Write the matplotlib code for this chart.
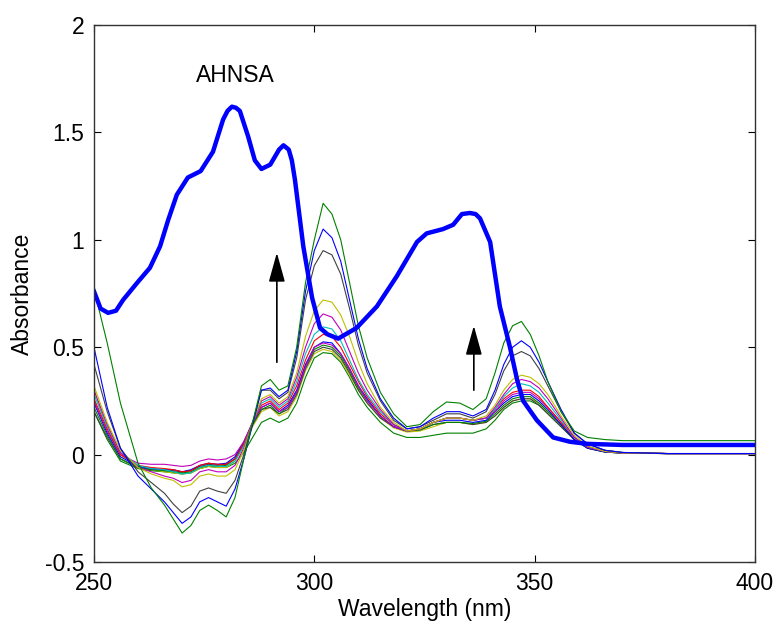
import matplotlib
matplotlib.use('Agg')
import matplotlib.pyplot as plt

plt.rcParams['font.family'] = ['Liberation Sans', 'DejaVu Sans']

# thick AHNSA spectrum
ahnsa_wl = [250, 251.5, 253.2, 255, 256.6, 259.8, 262.7, 265, 266.8, 268.8, 271.3, 274.2, 277,
            279.3, 280.3, 281.3, 282.2, 283.1, 285, 286.5, 288, 290, 292, 293, 294.2, 294.9,
            295.6, 297.5, 299.5, 301.3, 303, 305.4, 309.6, 314.2, 318.7, 323.3, 325.5, 329.2,
            331.5, 333.5, 335.3, 336.6, 337.6, 339.9, 342.1, 344.4, 346, 347.4, 350.5, 354.2,
            358, 362, 370, 400]
ahnsa = [0.76, 0.68, 0.66, 0.67, 0.72, 0.80, 0.87, 0.97, 1.09, 1.21, 1.29, 1.32, 1.41,
         1.56, 1.60, 1.62, 1.615, 1.60, 1.48, 1.37, 1.33, 1.35, 1.42, 1.44, 1.42, 1.37,
         1.28, 0.97, 0.73, 0.59, 0.56, 0.54, 0.59, 0.69, 0.83, 0.99, 1.03, 1.05,
         1.07, 1.12, 1.125, 1.12, 1.10, 0.99, 0.69, 0.50, 0.35, 0.25, 0.16, 0.08,
         0.06, 0.05, 0.045, 0.045]

# titration spectra
wl = [250, 253, 256, 260, 263, 266, 268, 270, 272, 274, 276, 278, 280, 282, 284, 286, 288, 290,
      292, 294, 296, 298, 300, 302, 304, 306, 308, 310, 312, 315, 318, 321, 324, 327, 330, 333,
      336, 339, 341, 343, 345, 347, 349, 351, 353, 356, 359, 362, 366, 370, 380, 400]

s1 = [0.77, 0.52, 0.24, -0.04, -0.155, -0.235, -0.3, -0.365, -0.33, -0.26, -0.235, -0.26, -0.29,
      -0.2, -0.02, 0.15, 0.32, 0.35, 0.3, 0.32, 0.5, 0.8, 1.0, 1.17, 1.12, 1.0, 0.8, 0.6, 0.45,
      0.29, 0.19, 0.13, 0.14, 0.2, 0.245, 0.24, 0.21, 0.26, 0.38, 0.52, 0.6, 0.62, 0.56, 0.46,
      0.34, 0.2, 0.11, 0.08, 0.07, 0.065, 0.065, 0.065]
s2 = [0.5, 0.22, 0.03, -0.1, -0.16, -0.22, -0.27, -0.32, -0.29, -0.22, -0.2, -0.22, -0.24,
      -0.16, -0.02, 0.14, 0.3, 0.31, 0.27, 0.3, 0.48, 0.76, 0.95, 1.05, 1.01, 0.9, 0.72, 0.54,
      0.4, 0.26, 0.17, 0.12, 0.13, 0.17, 0.2, 0.2, 0.18, 0.21, 0.3, 0.42, 0.5, 0.53, 0.5, 0.43,
      0.34, 0.21, 0.1, 0.05, 0.02, 0.01, 0.005, 0.005]
s3 = [0.42, 0.2, 0.03, -0.08, -0.13, -0.18, -0.23, -0.27, -0.24, -0.17, -0.155, -0.17, -0.18,
      -0.12, 0.0, 0.15, 0.3, 0.3, 0.26, 0.29, 0.45, 0.72, 0.88, 0.95, 0.93, 0.84, 0.68, 0.51,
      0.38, 0.25, 0.16, 0.12, 0.13, 0.16, 0.19, 0.19, 0.17, 0.2, 0.28, 0.39, 0.46, 0.48, 0.46,
      0.4, 0.32, 0.2, 0.1, 0.05, 0.02, 0.01, 0.005, 0.005]
s4 = [0.32, 0.15, 0.02, -0.06, -0.09, -0.11, -0.12, -0.15, -0.14, -0.1, -0.09, -0.1, -0.1,
      -0.07, 0.02, 0.15, 0.26, 0.28, 0.24, 0.27, 0.38, 0.55, 0.67, 0.72, 0.71, 0.65, 0.55, 0.43,
      0.33, 0.22, 0.15, 0.11, 0.12, 0.15, 0.17, 0.17, 0.16, 0.18, 0.23, 0.3, 0.35, 0.37, 0.36,
      0.33, 0.28, 0.18, 0.09, 0.04, 0.015, 0.008, 0.005, 0.005]
s5 = [0.3, 0.14, 0.01, -0.06, -0.08, -0.1, -0.11, -0.13, -0.12, -0.08, -0.07, -0.08, -0.08,
      -0.05, 0.03, 0.15, 0.25, 0.27, 0.23, 0.26, 0.36, 0.5, 0.61, 0.655, 0.64, 0.58, 0.48, 0.38,
      0.3, 0.21, 0.14, 0.11, 0.12, 0.15, 0.17, 0.17, 0.16, 0.17, 0.22, 0.28, 0.33, 0.35, 0.34,
      0.31, 0.26, 0.17, 0.08, 0.035, 0.015, 0.008, 0.005, 0.005]
s6 = [0.28, 0.13, 0.01, -0.05, -0.065, -0.07, -0.08, -0.09, -0.085, -0.06, -0.05, -0.055, -0.055,
      -0.03, 0.04, 0.15, 0.24, 0.26, 0.22, 0.25, 0.34, 0.47, 0.56, 0.595, 0.585, 0.53, 0.44, 0.35,
      0.28, 0.2, 0.14, 0.11, 0.12, 0.15, 0.17, 0.17, 0.16, 0.17, 0.21, 0.27, 0.31, 0.33, 0.32,
      0.29, 0.24, 0.16, 0.08, 0.035, 0.015, 0.008, 0.005, 0.005]
s7 = [0.26, 0.12, 0.0, -0.05, -0.06, -0.065, -0.07, -0.08, -0.075, -0.05, -0.04, -0.045, -0.045,
      -0.02, 0.05, 0.15, 0.23, 0.25, 0.21, 0.24, 0.32, 0.44, 0.53, 0.56, 0.55, 0.5, 0.42, 0.34,
      0.27, 0.19, 0.14, 0.11, 0.12, 0.15, 0.17, 0.17, 0.16, 0.17, 0.21, 0.26, 0.29, 0.3, 0.3,
      0.27, 0.22, 0.15, 0.08, 0.035, 0.015, 0.008, 0.005, 0.005]
s8 = [0.24, 0.1, -0.01, -0.055, -0.065, -0.07, -0.07, -0.08, -0.07, -0.05, -0.04, -0.045, -0.04,
      -0.01, 0.06, 0.15, 0.22, 0.24, 0.2, 0.23, 0.3, 0.42, 0.5, 0.525, 0.52, 0.47, 0.4, 0.32,
      0.26, 0.18, 0.13, 0.11, 0.12, 0.15, 0.16, 0.16, 0.15, 0.16, 0.2, 0.24, 0.27, 0.28, 0.28,
      0.25, 0.21, 0.14, 0.07, 0.03, 0.012, 0.007, 0.005, 0.005]
s9 = [0.22, 0.09, -0.02, -0.06, -0.07, -0.075, -0.08, -0.085, -0.08, -0.06, -0.05, -0.055, -0.05,
      -0.02, 0.05, 0.14, 0.21, 0.23, 0.19, 0.22, 0.29, 0.41, 0.49, 0.51, 0.5, 0.46, 0.39, 0.31,
      0.25, 0.18, 0.13, 0.11, 0.115, 0.14, 0.15, 0.15, 0.145, 0.155, 0.19, 0.23, 0.26, 0.27, 0.27,
      0.24, 0.2, 0.14, 0.07, 0.03, 0.012, 0.007, 0.005, 0.005]
s10 = [0.2, 0.08, -0.02, -0.06, -0.07, -0.07, -0.075, -0.08, -0.075, -0.055, -0.045, -0.05, -0.045,
       -0.02, 0.05, 0.14, 0.21, 0.22, 0.19, 0.21, 0.28, 0.4, 0.48, 0.5, 0.49, 0.45, 0.38, 0.3,
       0.24, 0.17, 0.13, 0.11, 0.115, 0.14, 0.15, 0.15, 0.14, 0.15, 0.18, 0.22, 0.25, 0.26, 0.26,
       0.23, 0.19, 0.13, 0.07, 0.03, 0.012, 0.007, 0.005, 0.005]
s11 = [0.25, 0.11, 0.0, -0.04, -0.045, -0.045, -0.05, -0.055, -0.05, -0.03, -0.02, -0.025, -0.02,
       0.0, 0.06, 0.15, 0.22, 0.24, 0.2, 0.22, 0.29, 0.41, 0.5, 0.52, 0.51, 0.47, 0.4, 0.32,
       0.25, 0.18, 0.13, 0.11, 0.12, 0.15, 0.17, 0.17, 0.16, 0.17, 0.2, 0.25, 0.28, 0.29, 0.29,
       0.26, 0.22, 0.15, 0.08, 0.035, 0.015, 0.008, 0.005, 0.005]
s12 = [0.3, 0.12, 0.0, -0.06, -0.07, -0.08, -0.085, -0.09, -0.085, -0.065, -0.055, -0.06, -0.06,
       -0.03, 0.04, 0.13, 0.2, 0.22, 0.18, 0.2, 0.27, 0.39, 0.47, 0.49, 0.48, 0.44, 0.37, 0.3,
       0.24, 0.17, 0.125, 0.105, 0.11, 0.13, 0.15, 0.15, 0.14, 0.15, 0.18, 0.22, 0.25, 0.26, 0.26,
       0.24, 0.2, 0.14, 0.07, 0.03, 0.012, 0.007, 0.005, 0.005]
s13 = [0.2, 0.07, -0.03, -0.065, -0.075, -0.08, -0.085, -0.09, -0.085, -0.065, -0.055, -0.06, -0.06,
       -0.04, 0.01, 0.08, 0.15, 0.17, 0.15, 0.17, 0.24, 0.36, 0.45, 0.475, 0.47, 0.43, 0.36, 0.28,
       0.22, 0.15, 0.1, 0.08, 0.08, 0.09, 0.1, 0.1, 0.1, 0.12, 0.16, 0.21, 0.24, 0.25, 0.25,
       0.23, 0.19, 0.13, 0.07, 0.035, 0.02, 0.01, 0.005, 0.005]

spectra = [s13, s12, s10, s9, s8, s11, s7, s6, s5, s4, s3, s2, s1]
colors = ['#008000', '#bfbf00', '#404040', '#008000', '#0000ff', '#bf00bf', '#ff0000',
          '#00bfbf', '#bf00bf', '#bfbf00', '#404040', '#0000ff', '#008000']

fig = plt.figure(figsize=(7.78, 6.26), dpi=100)
ax = fig.add_axes([0.1208, 0.1022, 0.8496, 0.8578])

for s, c in zip(spectra, colors):
    ax.plot(wl, s, color=c, lw=0.8)
ax.plot(ahnsa_wl, ahnsa, color='#0000ff', lw=3.2)

arrow = dict(arrowstyle='-|>,head_length=0.9,head_width=0.25', color='k',
             lw=1.2, mutation_scale=20, shrinkA=0, shrinkB=0)
ax.annotate('', xy=(291.5, 0.94), xytext=(291.5, 0.43), arrowprops=arrow)
ax.annotate('', xy=(336.2, 0.60), xytext=(336.2, 0.30), arrowprops=arrow)
ax.text(282, 1.765, 'AHNSA', fontsize=16.5, ha='center', va='center')

ax.set_xlim(250, 400)
ax.set_ylim(-0.5, 2)
ax.set_xticks([250, 300, 350, 400])
ax.set_yticks([-0.5, 0, 0.5, 1, 1.5, 2])
ax.set_yticklabels(['-0.5', '0', '0.5', '1', '1.5', '2'])
ax.tick_params(direction='in', top=True, right=True, length=5, labelsize=16.5, pad=7)
for sp in ax.spines.values():
    sp.set_linewidth(1.0)
    sp.set_color('#333333')
ax.set_xlabel('Wavelength (nm)', fontsize=16.5, labelpad=2)
ax.set_ylabel('Absorbance', fontsize=16.5, labelpad=8)

fig.savefig('out.png', dpi=100)
